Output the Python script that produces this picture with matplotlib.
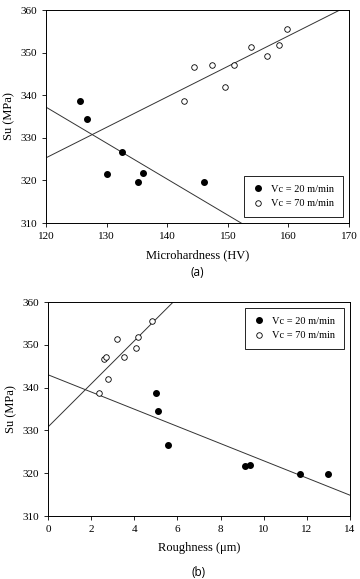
import matplotlib
matplotlib.use('Agg')
import matplotlib.pyplot as plt
import numpy as np

# (a) microhardness vs Su
hv_20 = [125.6, 126.8, 130.0, 132.5, 135.2, 136.0, 146.0]
su_a_20 = [338.7, 334.5, 321.6, 326.6, 319.7, 321.8, 319.7]
hv_70 = [142.8, 144.4, 147.4, 149.6, 151.0, 153.9, 156.5, 158.4, 159.7]
su_a_70 = [338.7, 346.6, 347.1, 341.9, 347.1, 351.4, 349.3, 351.9, 355.6]

# (b) roughness vs Su
ra_20 = [5.0, 5.1, 5.55, 9.15, 9.35, 11.7, 13.0]
su_b_20 = [338.7, 334.5, 326.6, 321.6, 321.8, 319.7, 319.7]
ra_70 = [2.35, 2.6, 2.7, 2.8, 3.2, 3.5, 4.1, 4.15, 4.8]
su_b_70 = [338.7, 346.6, 347.1, 341.9, 351.4, 347.1, 349.3, 351.9, 355.6]

# fitted lines: (x0, y at x0, slope)
fit_a_20 = [120, 337.2, -0.845]
fit_a_70 = [120, 325.3, 0.7155]
fit_b_20 = [0, 343.0, -2.01]
fit_b_70 = [0, 330.8, 5.03]

serif = 'Liberation Serif'

fig = plt.figure(figsize=(3.6, 5.79), dpi=100)
W, H = 360, 579


def draw_panel(rect, x20, y20, x70, y70, fits, xlim, xticks, xlabel, tag, tag_y, legend_loc):
    l, t, r, b = rect
    ax = fig.add_axes([l / W, 1 - b / H, (r - l) / W, (b - t) / H])
    ax.plot(x20, y20, 'o', color='black', ms=4, label='Vc = 20 m/min', zorder=3)
    ax.plot(x70, y70, 'o', mfc='white', mec='black', mew=0.6, ms=4,
            label='Vc = 70 m/min', zorder=3)
    for x0, y0, k in fits:
        xs = np.array(xlim, dtype=float)
        ax.plot(xs, y0 + k * (xs - x0), color='#333333', lw=0.7, zorder=2)
    ax.set_xlim(xlim)
    ax.set_ylim(310, 360)
    ax.set_xticks(xticks)
    ax.set_yticks(range(310, 361, 10))
    ax.tick_params(labelsize=8, length=3, width=0.6)
    for lab in ax.get_xticklabels() + ax.get_yticklabels():
        lab.set_family(serif)
    for s in ax.spines.values():
        s.set_linewidth(0.7)
    ax.set_xlabel(xlabel, family=serif, fontsize=9, labelpad=6)
    ax.set_ylabel('Su (MPa)', family=serif, fontsize=9, labelpad=4)
    leg = ax.legend(loc=legend_loc, prop={'family': serif, 'size': 7.5},
                    fancybox=False, framealpha=1, edgecolor='black',
                    borderpad=0.8, handletextpad=0.8, borderaxespad=0.6,
                    handlelength=1.0)
    leg.get_frame().set_linewidth(0.6)
    fig.text((l + r) / 2 / W, 1 - tag_y / H, tag, ha='center', va='center',
             family='Open Sans', fontsize=8.5)
    return ax


draw_panel((46, 10, 349, 223), hv_20, su_a_20, hv_70, su_a_70, [fit_a_20, fit_a_70],
           (120, 170), range(120, 171, 10), 'Microhardness (HV)', '(a)', 273,
           'lower right')
draw_panel((48, 302, 350, 516), ra_20, su_b_20, ra_70, su_b_70, [fit_b_20, fit_b_70],
           (0, 14), range(0, 15, 2), 'Roughness (\u03bcm)', '(b)', 573,
           'upper right')

fig.savefig('out.png', dpi=100)
